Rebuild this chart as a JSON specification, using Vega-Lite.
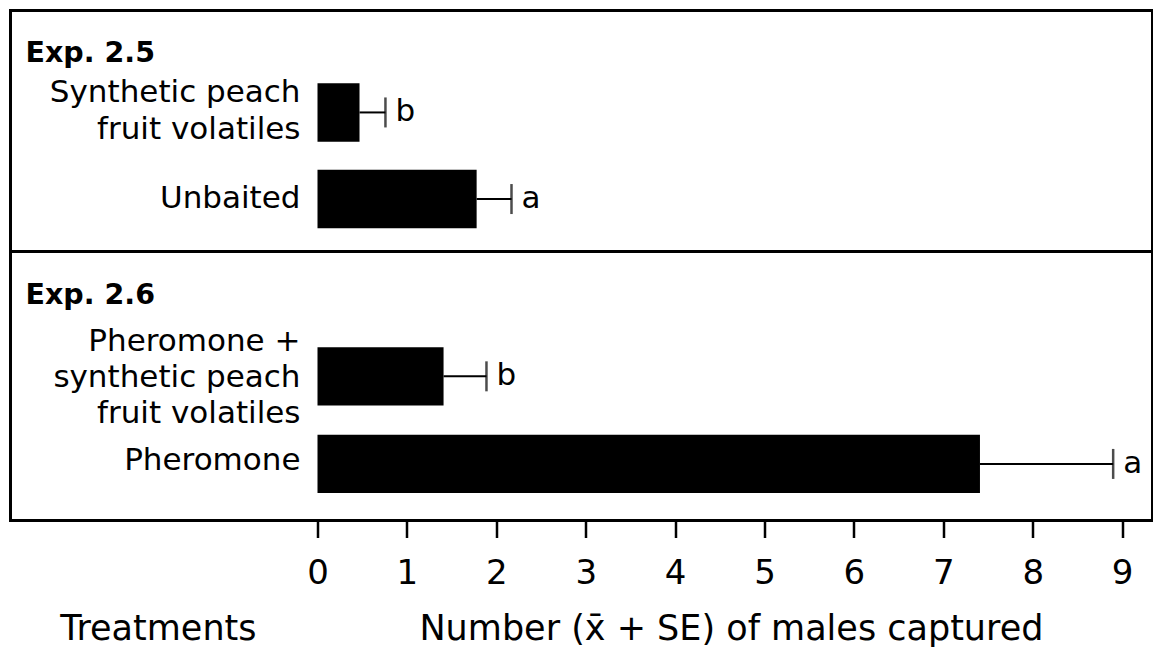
{
  "$schema": "https://vega.github.io/schema/vega-lite/v6.json",
  "padding": {"left": 8.5, "top": 8.5, "right": 0, "bottom": 0},
  "spacing": 0,
  "bounds": "flush",
  "background": "white",
  "config": {
    "font": "DejaVu Sans",
    "view": {"stroke": "black", "strokeWidth": 3},
    "text": {"color": "black", "font": "DejaVu Sans"},
    "title": {
      "anchor": "start",
      "frame": "group",
      "dx": 15,
      "fontSize": 28.5,
      "fontWeight": "bold",
      "baseline": "alphabetic",
      "color": "black",
      "font": "DejaVu Sans"
    }
  },
  "datasets": {
    "exp25": [
      {"treatment": "Synthetic peach fruit volatiles", "label": "Synthetic peach\nfruit volatiles", "mean": 0.47, "mean_plus_se": 0.76, "letter": "b"},
      {"treatment": "Unbaited", "label": "Unbaited", "mean": 1.78, "mean_plus_se": 2.17, "letter": "a"}
    ],
    "exp26": [
      {"treatment": "Pheromone + synthetic peach fruit volatiles", "label": "Pheromone +\nsynthetic peach\nfruit volatiles", "mean": 1.41, "mean_plus_se": 1.89, "letter": "b"},
      {"treatment": "Pheromone", "label": "Pheromone", "mean": 7.41, "mean_plus_se": 8.9, "letter": "a"}
    ],
    "captions": [
      {"caption": "Treatments"}
    ]
  },
  "resolve": {"scale": {"x": "independent", "y": "independent"}},
  "vconcat": [
    {
      "title": {"text": "Exp. 2.5", "offset": -57},
      "width": 1142,
      "height": 241,
      "data": {"name": "exp25"},
      "encoding": {
        "y": {
          "field": "treatment",
          "type": "nominal",
          "sort": null,
          "axis": null,
          "scale": {"paddingInner": 0.3245, "paddingOuter": 0.5537, "align": 0.758}
        }
      },
      "layer": [
        {
          "mark": {"type": "bar", "color": "black"},
          "encoding": {
            "x": {"field": "mean", "type": "quantitative", "axis": null,
                  "scale": {"domain": [-3.434, 9.34], "nice": false, "zero": false}},
            "x2": {"datum": 0}
          }
        },
        {
          "mark": {"type": "rule", "color": "black", "strokeWidth": 2},
          "encoding": {
            "x": {"field": "mean", "type": "quantitative"},
            "x2": {"field": "mean_plus_se"}
          }
        },
        {
          "mark": {"type": "tick", "orient": "vertical", "color": "black", "thickness": 2.5, "size": 30},
          "encoding": {"x": {"field": "mean_plus_se", "type": "quantitative"}}
        },
        {
          "mark": {"type": "text", "align": "left", "baseline": "middle", "dx": 10, "fontSize": 31},
          "encoding": {
            "x": {"field": "mean_plus_se", "type": "quantitative"},
            "text": {"field": "letter"}
          }
        },
        {
          "transform": [{"filter": "indexof(datum.label, '\\n') < 0"}],
          "mark": {"type": "text", "align": "right", "baseline": "middle", "dx": -17, "fontSize": 31},
          "encoding": {
            "x": {"datum": 0},
            "text": {"field": "label"}
          }
        },
        {
          "transform": [{"filter": "indexof(datum.label, '\\n') >= 0"}],
          "mark": {"type": "text", "align": "right", "baseline": "middle", "dx": -17, "dy": -19, "fontSize": 31, "lineBreak": "\n", "lineHeight": 37},
          "encoding": {
            "x": {"datum": 0},
            "text": {"field": "label"}
          }
        },
        {
          "mark": {"type": "rule", "color": "black", "strokeWidth": 2.5},
          "encoding": {"x": {"datum": 0}}
        }
      ]
    },
    {
      "title": {"text": "Exp. 2.6", "offset": -58},
      "width": 1142,
      "height": 269,
      "data": {"name": "exp26"},
      "encoding": {
        "y": {
          "field": "treatment",
          "type": "nominal",
          "sort": null,
          "axis": null,
          "scale": {"paddingInner": 0.3356, "paddingOuter": 0.7033, "align": 0.777}
        }
      },
      "layer": [
        {
          "mark": {"type": "bar", "color": "black"},
          "encoding": {
            "x": {"field": "mean", "type": "quantitative",
                  "scale": {"domain": [-3.434, 9.34], "nice": false, "zero": false},
                  "axis": {
                    "values": [0, 1, 2, 3, 4, 5, 6, 7, 8, 9],
                    "format": "d",
                    "title": null,
                    "domain": false,
                    "grid": false,
                    "ticks": true,
                    "tickSize": 17,
                    "tickWidth": 2.5,
                    "tickColor": "black",
                    "labelFontSize": 34,
                    "labelColor": "black",
                    "labelFont": "DejaVu Sans",
                    "labelPadding": 19,
                    "labelFlush": false,
                    "labelOverlap": false
                  }},
            "x2": {"datum": 0}
          }
        },
        {
          "mark": {"type": "rule", "color": "black", "strokeWidth": 2},
          "encoding": {
            "x": {"field": "mean", "type": "quantitative"},
            "x2": {"field": "mean_plus_se"}
          }
        },
        {
          "mark": {"type": "tick", "orient": "vertical", "color": "black", "thickness": 2.5, "size": 30},
          "encoding": {"x": {"field": "mean_plus_se", "type": "quantitative"}}
        },
        {
          "mark": {"type": "text", "align": "left", "baseline": "middle", "dx": 10, "fontSize": 31},
          "encoding": {
            "x": {"field": "mean_plus_se", "type": "quantitative"},
            "text": {"field": "letter"}
          }
        },
        {
          "transform": [{"filter": "indexof(datum.label, '\\n') < 0"}],
          "mark": {"type": "text", "align": "right", "baseline": "middle", "dx": -17, "dy": -3, "fontSize": 31},
          "encoding": {
            "x": {"datum": 0},
            "text": {"field": "label"}
          }
        },
        {
          "transform": [{"filter": "indexof(datum.label, '\\n') >= 0"}],
          "mark": {"type": "text", "align": "right", "baseline": "middle", "dx": -17, "dy": -34, "fontSize": 31, "lineBreak": "\n", "lineHeight": 36},
          "encoding": {
            "x": {"datum": 0},
            "text": {"field": "label"}
          }
        },
        {
          "mark": {"type": "rule", "color": "black", "strokeWidth": 2.5},
          "encoding": {"x": {"datum": 0}}
        }
      ]
    },
    {
      "width": 1142,
      "height": 216,
      "view": {"stroke": null},
      "data": {"name": "captions"},
      "layer": [
        {
          "mark": {"type": "text", "align": "center", "baseline": "middle", "fontSize": 35},
          "encoding": {
            "x": {"datum": -1.78, "type": "quantitative",
                  "scale": {"domain": [-3.434, 9.34], "nice": false, "zero": false},
                  "axis": null},
            "text": {"field": "caption"}
          }
        },
        {
          "mark": {"type": "text", "align": "center", "baseline": "middle", "fontSize": 35},
          "encoding": {
            "x": {"datum": 4.63, "type": "quantitative"},
            "text": {"value": "Number (x̄ + SE) of males captured"}
          }
        }
      ]
    }
  ]
}
